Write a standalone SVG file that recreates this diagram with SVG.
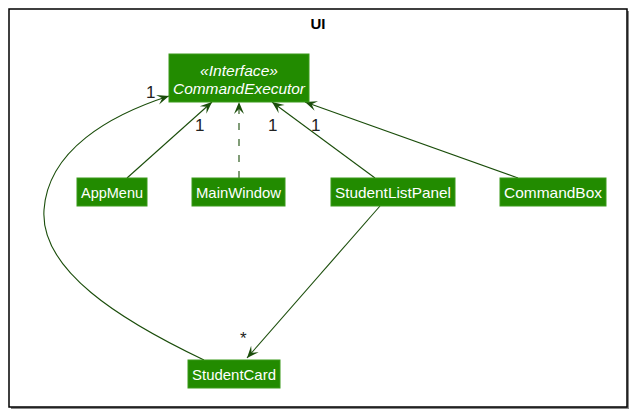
<svg xmlns="http://www.w3.org/2000/svg" width="633" height="415" viewBox="0 0 633 415">
<style>
.node rect{fill:#228B00;stroke:#3A9A1A;stroke-width:1}
.node text{fill:#FFFFFF;font-family:"Liberation Sans",Arial,sans-serif;font-size:15px;text-anchor:middle}
.edge{fill:none;stroke:#1A4D0A;stroke-width:1.1}
.lbl{fill:#222222;font-family:"Liberation Sans",Arial,sans-serif;font-size:17px}
</style>
<defs>
<marker id="arr" viewBox="-13 -6 14 12" refX="0" refY="0" markerWidth="14" markerHeight="12" markerUnits="userSpaceOnUse" orient="auto">
<path d="M0,0 L-12,-5 L-7,0 L-12,5 Z" fill="#1A4D0A"/>
</marker>
</defs>
<g id="frame">
<rect x="11" y="11" width="618" height="398" fill="#888888"/>
<rect x="9" y="9" width="618" height="398" fill="#FFFFFF" stroke="#000000" stroke-width="1.5"/>
<text x="318" y="29" font-family="Liberation Sans,Arial,sans-serif" font-size="15" font-weight="bold" text-anchor="middle">UI</text>
</g>
<g id="connectors">
<path class="edge" d="M127,178 L212,102" marker-end="url(#arr)"/>
<path class="edge" d="M239,178 L239,102" stroke-dasharray="7,9" marker-end="url(#arr)"/>
<path class="edge" d="M375,178 L272,102" marker-end="url(#arr)"/>
<path class="edge" d="M518,178 L305,102" marker-end="url(#arr)"/>
<path class="edge" d="M204,360 C120,320 40,270 44,210 C48,150 110,115 169,96" marker-end="url(#arr)"/>
<path class="edge" d="M380,206 L247,358" marker-end="url(#arr)"/>
<text class="lbl" x="146" y="98">1</text>
<text class="lbl" x="195" y="131">1</text>
<text class="lbl" x="268" y="131">1</text>
<text class="lbl" x="311" y="131">1</text>
<text class="lbl" x="240" y="344" font-size="13">*</text>
</g>
<g id="CommandExecutor" class="node">
<rect x="169" y="54" width="140" height="48"/>
<text x="239" y="76" font-style="italic" textLength="78" lengthAdjust="spacingAndGlyphs">«Interface»</text>
<text x="239" y="94" font-style="italic" font-size="16" textLength="132" lengthAdjust="spacingAndGlyphs">CommandExecutor</text>
</g>
<g id="AppMenu" class="node">
<rect x="77" y="178" width="70" height="28"/>
<text x="112" y="198" textLength="62" lengthAdjust="spacingAndGlyphs">AppMenu</text>
</g>
<g id="MainWindow" class="node">
<rect x="192" y="178" width="93" height="28"/>
<text x="238.5" y="198" textLength="85" lengthAdjust="spacingAndGlyphs">MainWindow</text>
</g>
<g id="StudentListPanel" class="node">
<rect x="331" y="178" width="124" height="28"/>
<text x="393" y="198" textLength="116" lengthAdjust="spacingAndGlyphs">StudentListPanel</text>
</g>
<g id="CommandBox" class="node">
<rect x="500" y="178" width="106" height="28"/>
<text x="553" y="198" textLength="98" lengthAdjust="spacingAndGlyphs">CommandBox</text>
</g>
<g id="StudentCard" class="node">
<rect x="188" y="360" width="92" height="28"/>
<text x="234" y="380" textLength="84" lengthAdjust="spacingAndGlyphs">StudentCard</text>
</g>
</svg>
